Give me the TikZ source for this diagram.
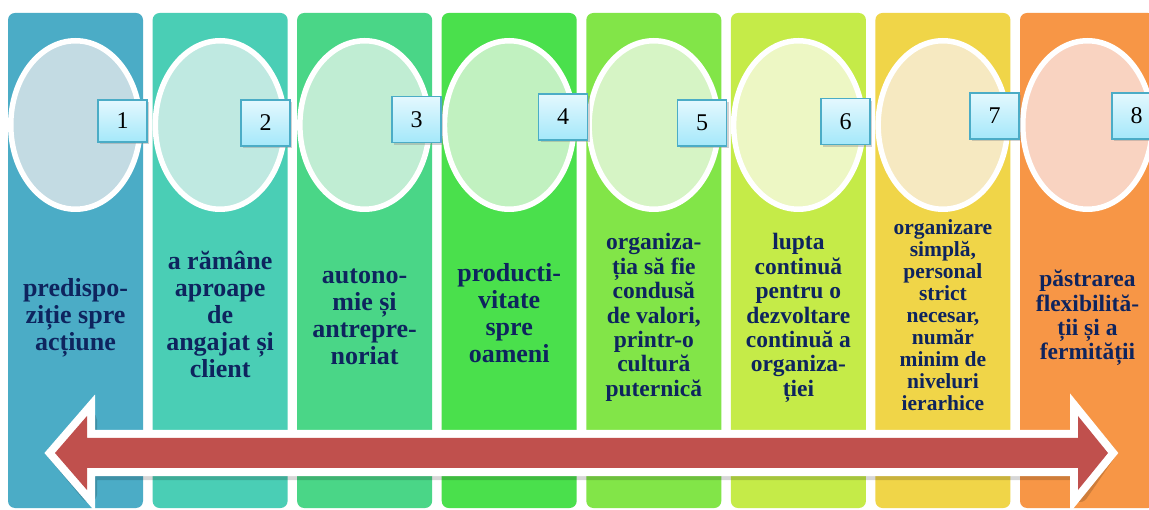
\documentclass[tikz,border=0pt]{standalone}
\usepackage{fontspec}
\setmainfont{Liberation Serif}
\usetikzlibrary{shadows}
\definecolor{cA}{HTML}{4BACC6}\definecolor{eA}{HTML}{C3DBE3}
\definecolor{cB}{HTML}{4ACEB5}\definecolor{eB}{HTML}{BFE9E1}
\definecolor{cC}{HTML}{4AD687}\definecolor{eC}{HTML}{C0EDD3}
\definecolor{cD}{HTML}{4AE04C}\definecolor{eD}{HTML}{C1F1C0}
\definecolor{cE}{HTML}{82E548}\definecolor{eE}{HTML}{D6F4C5}
\definecolor{cF}{HTML}{C5EB48}\definecolor{eF}{HTML}{EDF7C4}
\definecolor{cG}{HTML}{F0D548}\definecolor{eG}{HTML}{F6E9C1}
\definecolor{cH}{HTML}{F79646}\definecolor{eH}{HTML}{F9D3C1}
\definecolor{txt}{RGB}{14,36,94}
\definecolor{arrred}{HTML}{C0504D}
\definecolor{boxedge}{HTML}{4BACC6}
\definecolor{boxtop}{HTML}{E4F8FE}
\definecolor{boxbot}{HTML}{A4E8FA}
\tikzset{
  colbox/.style={rectangle, rounded corners=7pt, minimum width=135pt, minimum height=495pt, inner sep=0pt, draw=none},
  ell/.style={ellipse, draw=white, line width=5.5pt, minimum width=129.5pt, minimum height=168.5pt, inner sep=0pt},
  numbox/.style={rectangle, draw=boxedge, line width=1.6pt, top color=boxtop, bottom color=boxbot,
    minimum width=49pt, minimum height=46pt, inner sep=0pt, text=black,
    font=\fontsize{24}{26}\selectfont,
    drop shadow={opacity=0.35, shadow xshift=2pt, shadow yshift=-2.5pt}},
  lbl/.style={align=center, text=txt, inner sep=0pt},
  big/.style={font=\fontsize{26}{27}\selectfont\bfseries},
  mid/.style={font=\fontsize{23.5}{24.4}\selectfont\bfseries},
  sml/.style={font=\fontsize{21.5}{22}\selectfont\bfseries}
}
\usetikzlibrary{shapes.geometric}
\begin{document}
\begin{tikzpicture}[x=1pt,y=-1pt]
\useasboundingbox (0,0) rectangle (1149,510);
\fill[white] (0,0) rectangle (1149,510);
% columns
\node[colbox, fill=cA] (c1) at (75.5,260.5) {};
\node[colbox, fill=cB] (c2) at (220.1,260.5) {};
\node[colbox, fill=cC] (c3) at (364.6,260.5) {};
\node[colbox, fill=cD] (c4) at (509.2,260.5) {};
\node[colbox, fill=cE] (c5) at (653.8,260.5) {};
\node[colbox, fill=cF] (c6) at (798.4,260.5) {};
\node[colbox, fill=cG] (c7) at (942.9,260.5) {};
\node[colbox, fill=cH] (c8) at (1087.5,260.5) {};
% ellipses
\node[ell, fill=eA] (e1) at (75.5,125) {};
\node[ell, fill=eB] (e2) at (220.1,125) {};
\node[ell, fill=eC] (e3) at (364.6,125) {};
\node[ell, fill=eD] (e4) at (509.2,125) {};
\node[ell, fill=eE] (e5) at (653.8,125) {};
\node[ell, fill=eF] (e6) at (798.4,125) {};
\node[ell, fill=eG] (e7) at (942.9,125) {};
\node[ell, fill=eH] (e8) at (1087.5,125) {};
% number boxes
\node[numbox, minimum height=42pt] (n1) at (122.5,121) {1};
\node[numbox] (n2) at (265.5,123) {2};
\node[numbox] (n3) at (416.5,119.5) {3};
\node[numbox] (n4) at (563,117) {4};
\node[numbox] (n5) at (702,123) {5};
\node[numbox] (n6) at (845.5,121.5) {6};
\node[numbox] (n7) at (994.5,116) {7};
\node[numbox] (n8) at (1136.5,116) {8};
% texts
\node[lbl, big] (t1) at (75.5,318) {predispo-\\ziție spre\\acțiune};
\node[lbl, big] (t2) at (220.1,314) {a rămâne\\aproape\\de\\angajat și\\client};
\node[lbl, big] (t3) at (364.6,317) {autono-\\mie și\\antrepre-\\noriat};
\node[lbl, big] (t4) at (509.2,313.5) {producti-\\vitate\\spre\\oameni};
\node[lbl, mid] (t5) at (653.8,317.5) {organiza-\\ția să fie\\condusă\\de valori,\\printr-o\\cultură\\puternică};
\node[lbl, mid] (t6) at (798.4,318) {lupta\\continuă\\pentru o\\dezvoltare\\continuă a\\organiza-\\ției};
\node[lbl, sml] (t7) at (942.9,315) {organizare\\simplă,\\personal\\strict\\necesar,\\număr\\minim de\\niveluri\\ierarhice};
\node[lbl, mid] (t8) at (1087.5,318) {păstrarea\\flexibilită-\\ții și a\\fermității};
% double arrow
\coordinate (aL) at (55,453);
\coordinate (aR) at (1108,453);
\begin{scope}[transparency group, opacity=0.16, shift={(2,4)}]
\filldraw[black, line width=16pt, line join=round]
  (aL) -- (87,416) -- (87,438) -- (1078,438) -- (1078,416) -- (aR)
  -- (1078,490) -- (1078,468) -- (87,468) -- (87,490) -- cycle;
\end{scope}
\draw[white, line width=16pt, line join=miter]
  (aL) -- (87,416) -- (87,438) -- (1078,438) -- (1078,416) -- (aR)
  -- (1078,490) -- (1078,468) -- (87,468) -- (87,490) -- cycle;
\fill[arrred]
  (aL) -- (87,416) -- (87,438) -- (1078,438) -- (1078,416) -- (aR)
  -- (1078,490) -- (1078,468) -- (87,468) -- (87,490) -- cycle;
\end{tikzpicture}
\end{document}
